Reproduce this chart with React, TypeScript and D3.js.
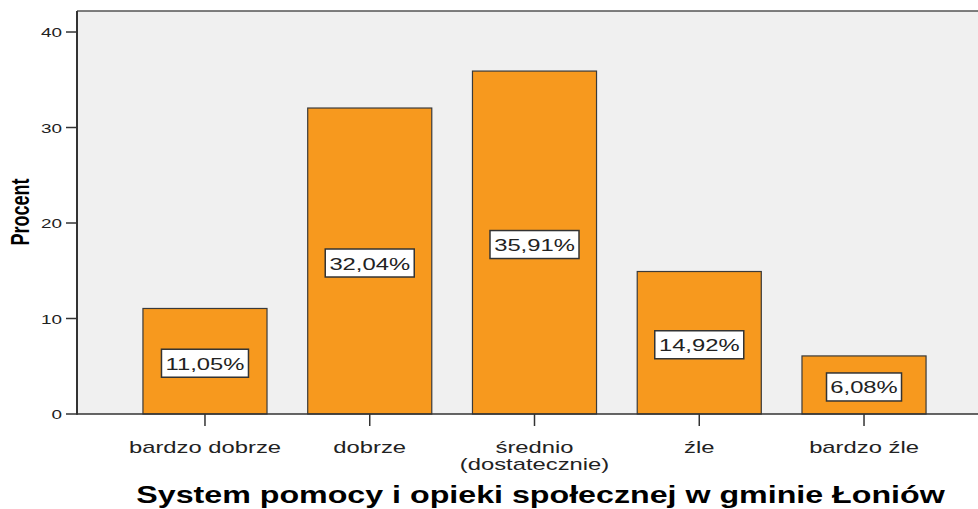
import React from "react";
import * as d3 from "d3";

const categories: string[][] = [
  ["bardzo dobrze"],
  ["dobrze"],
  ["średnio", "(dostatecznie)"],
  ["źle"],
  ["bardzo źle"],
];
const percents: number[] = [11.05, 32.04, 35.91, 14.92, 6.08];
const valueLabels: string[] = ["11,05%", "32,04%", "35,91%", "14,92%", "6,08%"];
const yTicks: number[] = [0, 10, 20, 30, 40];
const yTitle = "Procent";
const xTitle = "System pomocy i opieki społecznej w gminie Łoniów";

const W = 978;
const H = 509;
const plotLeft = 77;
const plotTop = 11;
const plotRight = 978;
const plotBottom = 414;
const SX = 1.4; // horizontal stretch of glyphs
const FONT = "'Liberation Sans', Arial, sans-serif";
const LABEL_SIZE = 17;

let ctx: CanvasRenderingContext2D | null = null;
function measure(text: string, size: number): number {
  if (!ctx) {
    const c = document.createElement("canvas");
    ctx = c.getContext("2d");
  }
  if (!ctx) return text.length * size * 0.55;
  ctx.font = `${size}px 'Liberation Sans', Arial, sans-serif`;
  return ctx.measureText(text).width;
}

export default function App() {
  const keys = categories.map((c) => c.join(" "));
  const x = d3
    .scaleBand<string>()
    .domain(keys)
    .range([122.6, 946.4])
    .paddingInner(0.247)
    .paddingOuter(0.1235);
  const y = d3.scaleLinear().domain([0, 42.2]).range([plotBottom, plotTop]);

  return (
    <svg
      width={W}
      height={H}
      style={{ position: "absolute", left: 0, top: 0, background: "#fff" }}
    >
      <rect
        x={plotLeft}
        y={plotTop}
        width={plotRight - plotLeft}
        height={plotBottom - plotTop}
        fill="#f0f0f0"
      />
      {/* bars */}
      {percents.map((v, i) => {
        const bx = x(keys[i])!;
        const bw = x.bandwidth();
        const top = y(v);
        const cx = bx + bw / 2;
        const cy = (top + y(0)) / 2 + 2;
        const tw = measure(valueLabels[i], LABEL_SIZE) * SX;
        const boxW = Math.round(tw + 8);
        return (
          <g key={i}>
            <rect
              x={bx}
              y={top}
              width={bw}
              height={y(0) - top}
              fill="#f7991e"
              stroke="#3a3a3a"
              strokeWidth={1.2}
            />
            <rect
              x={cx - boxW / 2}
              y={cy - 14}
              width={boxW}
              height={28}
              fill="#ffffff"
              stroke="#333"
              strokeWidth={1.5}
            />
            <text
              transform={`translate(${cx},${cy + 6.5}) scale(${SX},1)`}
              textAnchor="middle"
              fontFamily={FONT}
              fontSize={LABEL_SIZE}
              fill="#222"
            >
              {valueLabels[i]}
            </text>
          </g>
        );
      })}
      {/* frame */}
      <line x1={plotLeft} x2={plotRight} y1={plotTop} y2={plotTop} stroke="#555" strokeWidth={1.5} />
      <line x1={plotLeft} x2={plotRight} y1={plotBottom} y2={plotBottom} stroke="#333" strokeWidth={1.5} />
      <line x1={plotLeft} x2={plotLeft} y1={plotTop} y2={plotBottom + 0.75} stroke="#333" strokeWidth={2} />
      {/* y ticks */}
      {yTicks.map((t) => (
        <g key={t}>
          <line x1={66} x2={plotLeft} y1={y(t)} y2={y(t)} stroke="#333" strokeWidth={1.5} />
          <text
            transform={`translate(62,${y(t) + 5}) scale(${SX},1)`}
            textAnchor="end"
            fontFamily={FONT}
            fontSize={13.5}
            fill="#222"
          >
            {t}
          </text>
        </g>
      ))}
      {/* x ticks */}
      {keys.map((k, i) => {
        const cx = x(k)! + x.bandwidth() / 2;
        return (
          <g key={k}>
            <line x1={cx} x2={cx} y1={plotBottom} y2={plotBottom + 12} stroke="#333" strokeWidth={1.5} />
            {categories[i].map((line, j) => (
              <text
                key={j}
                transform={`translate(${cx},${453 + j * 17}) scale(${SX},1)`}
                textAnchor="middle"
                fontFamily={FONT}
                fontSize={17}
                fill="#222"
              >
                {line}
              </text>
            ))}
          </g>
        );
      })}
      {/* y title */}
      <text
        transform={`translate(29,212) scale(${SX},1) rotate(-90)`}
        textAnchor="middle"
        fontFamily={FONT}
        fontSize={18}
        fontWeight="bold"
        fill="#000"
      >
        {yTitle}
      </text>
      {/* x title */}
      <text
        transform={`translate(540.5,503) scale(${SX},1)`}
        textAnchor="middle"
        fontFamily={FONT}
        fontSize={23}
        fontWeight="bold"
        fill="#000"
      >
        {xTitle}
      </text>
    </svg>
  );
}
